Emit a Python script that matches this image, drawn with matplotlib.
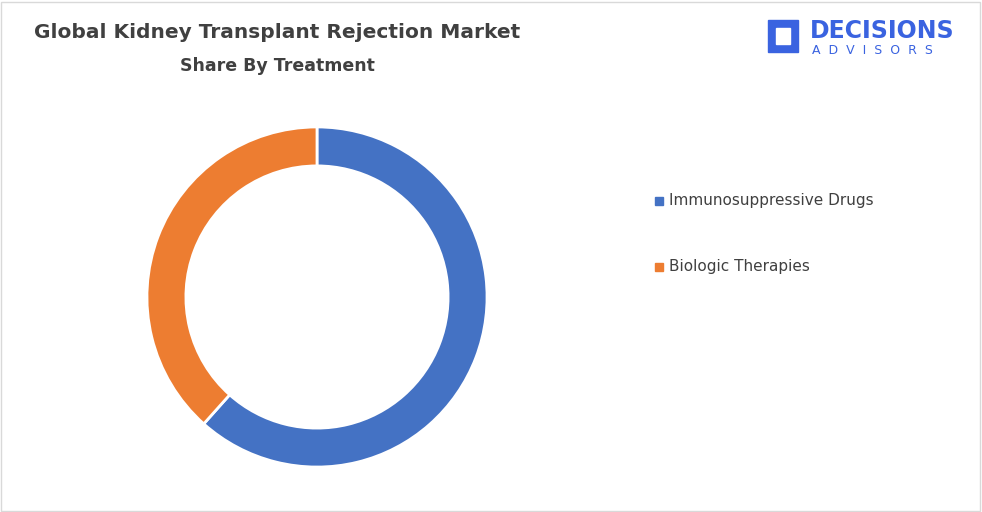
import matplotlib.pyplot as plt
from matplotlib.patches import Rectangle

labels = ["Immunosuppressive Drugs", "Biologic Therapies"]
shares = [61.6, 38.4]
colors = ["#4472C4", "#ED7D31"]

fig = plt.figure(figsize=(9.82, 5.12), dpi=100)
fig.patch.set_facecolor("white")
fig.add_artist(Rectangle((0.001, 0.002), 0.997, 0.995, transform=fig.transFigure,
                         fill=False, edgecolor="#D9D9D9", lw=1))

ax = fig.add_axes([317/982 - 190/982, 1 - (297 + 190)/512, 380/982, 380/512])
ax.pie(shares, colors=colors, startangle=90, counterclock=False,
       wedgeprops=dict(width=0.205, edgecolor="white", linewidth=2), radius=0.895)
ax.set_xlim(-1, 1)
ax.set_ylim(-1, 1)
ax.set_aspect("equal")

fig.text(277/982, 1 - 33/512, "Global Kidney Transplant Rejection Market",
         ha="center", va="center", fontsize=14.5, fontweight="bold", color="#404040")
fig.text(277/982, 1 - 66/512, "Share By Treatment",
         ha="center", va="center", fontsize=12.5, fontweight="bold", color="#404040")

for i, (lab, c) in enumerate(zip(labels, colors)):
    y = 1 - (201 + 66 * i)/512
    fig.add_artist(Rectangle((655/982, y - 4/512), 8/982, 8/512, transform=fig.transFigure,
                             color=c))
    fig.text(669/982, y, lab, ha="left", va="center", fontsize=11, color="#404040")

# logo
fig.add_artist(Rectangle((768/982, 1 - 52/512), 30/982, 32/512, transform=fig.transFigure,
                         color="#3A63E0"))
fig.add_artist(Rectangle((776/982, 1 - 44/512), 14/982, 16/512, transform=fig.transFigure,
                         color="white"))
fig.text(810/982, 1 - 31/512, "DECISIONS", ha="left", va="center", fontsize=17,
         fontweight="bold", color="#3A63E0")
fig.text(812/982, 1 - 51/512, "A  D  V  I  S  O  R  S", ha="left", va="center", fontsize=9,
         color="#3A63E0")

fig.savefig("out.png", dpi=100)
